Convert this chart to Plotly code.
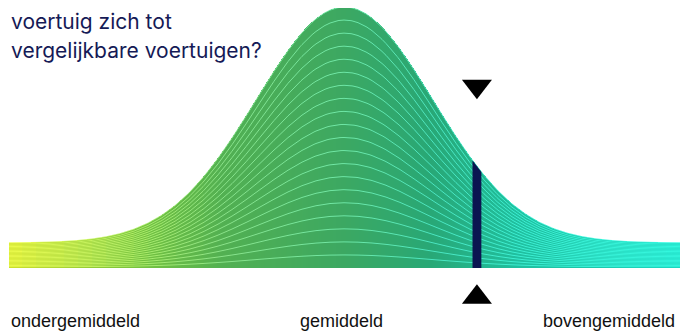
import numpy as np
import plotly.graph_objects as go
from plotly.colors import sample_colorscale

# verdeling (normale curve) en positie van het voertuig
mean = 0.0
sd = 1.0
x_min, x_max = -3.8, 3.8
tail_level = 0.096      # hoogte van de staart t.o.v. de top
n_layers = 20
vehicle_value = 1.5
vehicle_halfwidth = 0.05

labels = ["ondergemiddeld", "gemiddeld", "bovengemiddeld"]
title_lines = ["voertuig zich tot", "vergelijkbare voertuigen?"]

fill_scale = [
    [0.0, "#c4d824"],
    [0.2, "#74c240"],
    [0.32, "#52b052"],
    [0.5, "#3ca862"],
    [0.63, "#28a876"],
    [0.76, "#20c0a0"],
    [1.0, "#16ceb8"],
]
line_scale = [
    [0.0, "#f2ff50"],
    [0.2, "#b0f070"],
    [0.32, "#90e890"],
    [0.5, "#74eeae"],
    [0.63, "#50ecc8"],
    [0.76, "#40f4d8"],
    [1.0, "#38fce4"],
]
navy = "#0b1551"
title_color = "#151a56"


def curve(x):
    g = np.exp(-((x - mean) ** 2) / (2 * sd ** 2))
    return tail_level + (1 - tail_level) * g


xs = np.linspace(x_min, x_max, 672)
step = xs[1] - xs[0]
top = curve(xs)

fig = go.Figure()

# gevulde curve, kleur loopt mee met x
fig.add_trace(go.Bar(
    x=xs, y=top, width=step * 1.4,
    marker=dict(color=xs, colorscale=fill_scale, cmin=x_min, cmax=x_max,
                line=dict(width=0)),
    hoverinfo="skip",
))

# lagen: lijnen in stukken zodat de kleur mee kan lopen
n_seg = 48
edges = np.linspace(0, len(xs) - 1, n_seg + 1).astype(int)
for i in range(n_seg):
    a, b = edges[i], edges[i + 1]
    seg_x = xs[a:b + 1]
    seg_top = top[a:b + 1]
    t = ((seg_x[0] + seg_x[-1]) / 2 - x_min) / (x_max - x_min)
    col = sample_colorscale(line_scale, [t])[0]
    lx, ly = [], []
    for k in range(1, n_layers + 1):
        lx += list(seg_x) + [None]
        ly += list(seg_top * k / n_layers) + [None]
    fig.add_trace(go.Scatter(
        x=lx, y=ly, mode="lines",
        line=dict(color=col, width=1),
        opacity=0.9, hoverinfo="skip",
    ))

# positie van het voertuig
bx = np.linspace(vehicle_value - vehicle_halfwidth, vehicle_value + vehicle_halfwidth, 12)
fig.add_trace(go.Scatter(
    x=bx, y=curve(bx), mode="lines", fill="tozeroy",
    fillcolor=navy, line=dict(width=0, color=navy), hoverinfo="skip",
))

fig.add_trace(go.Scatter(
    x=[vehicle_value, vehicle_value], y=[0.696, -0.112], mode="markers",
    marker=dict(symbol=["triangle-down", "triangle-up"], size=26, color="black",
                line=dict(width=0)),
    cliponaxis=False, hoverinfo="skip",
))

# de pagina heeft 8px marge, posities hieronder zijn daarvoor gecorrigeerd
H = 332
fig.add_annotation(x=0, y=1 - 13.5 / H, xref="paper", yref="paper",
                   text=title_lines[0], showarrow=False, xanchor="left", yanchor="middle",
                   font=dict(family="Inter", size=21, color=title_color))
fig.add_annotation(x=0, y=1 - 42 / H, xref="paper", yref="paper",
                   text=title_lines[1], showarrow=False, xanchor="left", yanchor="middle",
                   font=dict(family="Inter", size=21, color=title_color))

label_font = dict(family="Liberation Sans, Arial", size=18, color="#111111")
for txt, px_, anchor in zip(labels, [0.0, 0.496, 0.9955], ["left", "center", "right"]):
    fig.add_annotation(x=px_, y=1 - 313 / H, xref="paper", yref="paper",
                       text=txt, showarrow=False, xanchor=anchor, yanchor="middle",
                       font=label_font)

fig.update_layout(
    width=690, height=H,
    margin=dict(l=1, r=18, t=0, b=0),
    paper_bgcolor="white", plot_bgcolor="white",
    showlegend=False, bargap=0,
    xaxis=dict(range=[x_min, x_max], visible=False, fixedrange=True),
    yaxis=dict(range=[-0.2759, 0.9962], visible=False, fixedrange=True),
)

fig.write_html("out.html")
